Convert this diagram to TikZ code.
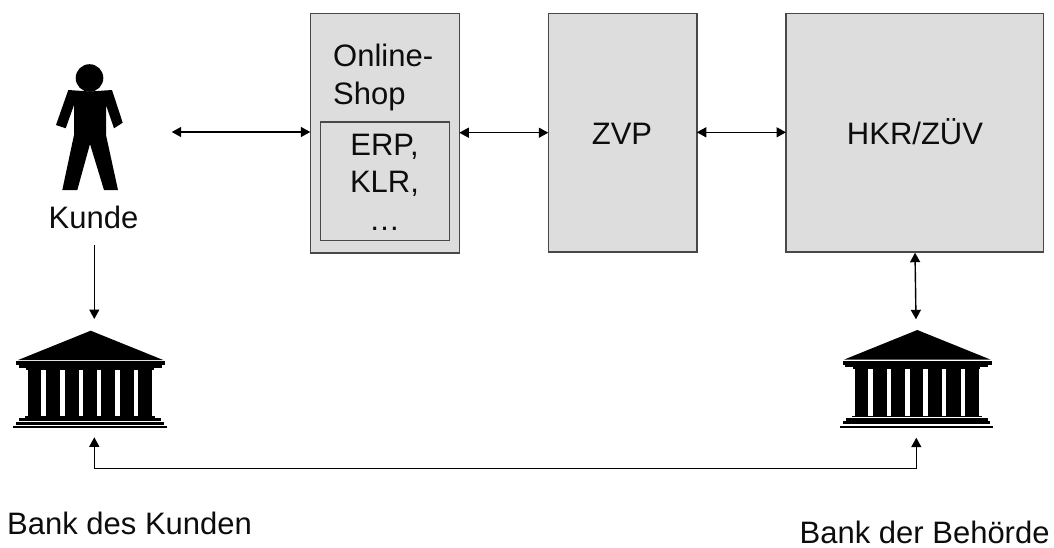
\documentclass[tikz,border=0pt]{standalone}
\usepackage{fontspec}
\setmainfont{Liberation Sans}
\usetikzlibrary{arrows.meta}
\tikzset{
  x=1pt,y=-1pt,
  box/.style={draw=boxline,fill=boxfill,line width=1.4pt,anchor=north west,inner sep=0pt,outer sep=0pt},
  lbl/.style={font=\fontsize{31}{37.5}\selectfont,inner sep=0pt,align=center,text=black!95},
  link/.style={line width=1.4pt,{Triangle[length=9.5pt,width=10pt]}-{Triangle[length=9.5pt,width=10pt]}},
  oneway/.style={line width=1.4pt,-{Triangle[length=9.5pt,width=10pt]}},
  pics/bank/.style={code={
    \fill[black] (0,0) -- (73,29.5) -- (-73,29.5) -- cycle;
    \fill[black] (-74.5,30.5) rectangle (74.5,34.5);
    \fill[black] (-72,33.5) rectangle (71,37);
    \fill[black] (-64.5,37) rectangle (63,39);
    \foreach \a/\b in {-62.8/-49.5,-44.5/-30.8,-26.2/-12.2,-7.8/5.8,10.5/24.2,28.8/43.2,47.2/61.5}{
      \fill[black] (\a,37) rectangle (\b,86);
    }
    \fill[black] (-65.7,85.5) rectangle (64.3,87.3);
    \fill[black] (-71.7,87.5) rectangle (70.3,90.5);
    \fill[black] (-74.7,91) rectangle (73,94.3);
    \fill[black] (-77.3,95.5) rectangle (76,97.7);
  }},
}
\definecolor{boxfill}{HTML}{DDDDDD}
\definecolor{boxline}{HTML}{484848}
\begin{document}
\begin{tikzpicture}
\useasboundingbox (0,0) rectangle (1054,547);
% boxes
\node[box,minimum width=149pt,minimum height=239.5pt] (shop) at (310.3,13.3) {};
\node[box,minimum width=129pt,minimum height=118.5pt] (erp) at (320.3,121.8) {};
\node[box,minimum width=148.5pt,minimum height=238.8pt] (zvp) at (548.3,13.3) {};
\node[box,minimum width=257.5pt,minimum height=238.8pt] (hkr) at (786,13.3) {};
\node[lbl,align=left,anchor=base west] (shoptext) at (333,104) {Online-\\Shop};
\node[lbl,anchor=base] (erptext) at (384.5,230) {ERP,\\KLR,\\…};
\node[lbl,anchor=base] (zvptext) at (622,144) {ZVP};
\node[lbl,anchor=base] (hkrtext) at (915,144) {HKR/ZÜV};
% person
\fill[black] (89.5,78) circle (13.8);
\fill[black] (68.3,90) -- (90,91.5) -- (112,90) -- (122.7,122.7) -- (114,128.3) -- (106,105)
  -- (106,135) -- (118,190) -- (104,190) -- (90,144) -- (77.3,190) -- (62.3,190) -- (74,135) -- (74,105)
  -- (65.7,128.3) -- (56,125) -- cycle;
\node[lbl,anchor=base] (kunde) at (93.5,228) {Kunde};
\coordinate (personright) at (171.7,132);
\coordinate (kundeout) at (94.3,245);
% banks
\pic at (90.7,330.7) {bank};
\pic at (917.3,330) {bank};
\coordinate (bankLtop) at (94.3,319);
\coordinate (bankLbottom) at (94.3,437.3);
\coordinate (bankRtop) at (916,319.3);
\coordinate (bankRbottom) at (916.3,437.7);
\coordinate (bankRlink) at (915,252.7);
\coordinate (cornerL) at (94.3,468.5);
\coordinate (cornerR) at (916.3,468.5);
\node[lbl,anchor=base west] (bankL) at (7,534) {Bank des Kunden};
\node[lbl,anchor=base west] (bankR) at (799.5,543) {Bank der Behörde};
% connectors
\draw[link] (personright) -- (shop.west |- personright);
\draw[link] (shop.east |- 0,132.7) -- (zvp.west |- 0,132.7);
\draw[link] (zvp.east |- 0,132.3) -- (hkr.west |- 0,132.3);
\draw[link] (bankRlink) -- (bankRtop);
\draw[oneway] (kundeout) -- (bankLtop);
\draw[link] (bankLbottom) -- (cornerL) -- (cornerR) -- (bankRbottom);
\end{tikzpicture}
\end{document}
